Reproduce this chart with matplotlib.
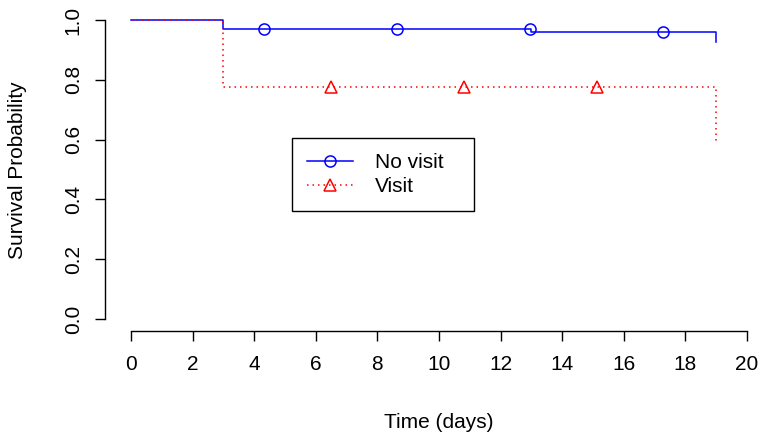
import numpy as np
import matplotlib
matplotlib.use("Agg")
import matplotlib.pyplot as plt

plt.rcParams['font.family'] = ['Liberation Sans', 'DejaVu Sans']

# Data
novisit_time = [0, 3, 13, 19]
novisit_surv = [1.0, 0.970, 0.961, 0.925]
visit_time = [0, 3, 19]
visit_surv = [1.0, 0.775, 0.59]
novisit_marks = [4.32, 8.64, 12.95, 17.27]
visit_marks = [6.49, 10.81, 15.13]
xticks = list(range(0, 21, 2))
yticks = [0.0, 0.2, 0.4, 0.6, 0.8, 1.0]
ytick_labels = ["0.0", "0.2", "0.4", "0.6", "0.8", "1.0"]


def step_value(times, surv, x):
    idx = np.searchsorted(times, x, side='right') - 1
    return [surv[i] for i in idx]


W, H = 762, 437
fig = plt.figure(figsize=(W / 100, H / 100), dpi=100)

# axes placement in pixels
pxu = 30.8
x0px = 131
xmin, xmax = -0.84, 20.8
left = x0px + xmin * pxu
right = x0px + xmax * pxu
pyu = 299
y0px = 319
ymin, ymax = -0.04, 1.04
bottom = y0px - ymin * pyu
top = y0px - ymax * pyu
ax = fig.add_axes([left / W, (H - bottom) / H, (right - left) / W, (bottom - top) / H])
ax.set_xlim(xmin, xmax)
ax.set_ylim(ymin, ymax)
ax.patch.set_alpha(0)

blue = "#0000FF"
red = "#FF0000"

ax.step(novisit_time, novisit_surv, where='post', color=blue, lw=1.1)
ax.step(visit_time, visit_surv, where='post', color=red, lw=1.1,
        linestyle=(0, (1, 2.6)))
ax.plot(novisit_marks, step_value(novisit_time, novisit_surv, novisit_marks),
        linestyle='none', marker='o', mfc='none', mec=blue, ms=8, mew=1.1)
ax.plot(visit_marks, step_value(visit_time, visit_surv, visit_marks),
        linestyle='none', marker='^', mfc='none', mec=red, ms=9, mew=1.1)

# legend handles
h1, = ax.plot([], [], color=blue, lw=1.1, marker='o', mfc='none', mec=blue, ms=8, mew=1.1)
h2, = ax.plot([], [], color=red, lw=1.1, linestyle=(0, (1, 2.6)), marker='^',
              mfc='none', mec=red, ms=9, mew=1.1)
lx0, ly0, lx1, ly1 = 292, 138, 474, 208
leg = ax.legend([h1, h2], ["No visit", "Visit"],
                loc='upper left',
                bbox_to_anchor=(lx0 / W, 1 - ly1 / H, (lx1 - lx0) / W, (ly1 - ly0) / H),
                bbox_transform=fig.transFigure, mode='expand',
                fontsize=15, frameon=True, fancybox=False, shadow=False,
                borderpad=0.72, borderaxespad=0, handlelength=2.2,
                handletextpad=1.05, labelspacing=0.24, numpoints=1)
leg.get_frame().set_edgecolor('black')
leg.get_frame().set_linewidth(1.0)
leg.get_frame().set_facecolor('white')
leg.get_frame().set_alpha(1)

for s in ['top', 'right']:
    ax.spines[s].set_visible(False)
ax.spines['left'].set_bounds(0, 1)
ax.spines['bottom'].set_bounds(0, 20)
for s in ['left', 'bottom']:
    ax.spines[s].set_linewidth(1.0)

ax.set_xticks(xticks)
ax.set_xticklabels([str(t) for t in xticks])
ax.set_yticks(yticks)
ax.set_yticklabels(ytick_labels, rotation=90, va='center')
ax.tick_params(axis='both', direction='out', length=7.2, width=1.0, labelsize=15,
               colors='black')
ax.tick_params(axis='x', pad=10)
ax.tick_params(axis='y', pad=9)

fig.text(439 / W, 1 - 422 / H, "Time (days)", ha='center', va='center', fontsize=15)
fig.text(18 / W, 1 - 170 / H, "Survival Probability", ha='center', va='center',
         rotation=90, fontsize=15)

fig.savefig("out.png", dpi=100)
